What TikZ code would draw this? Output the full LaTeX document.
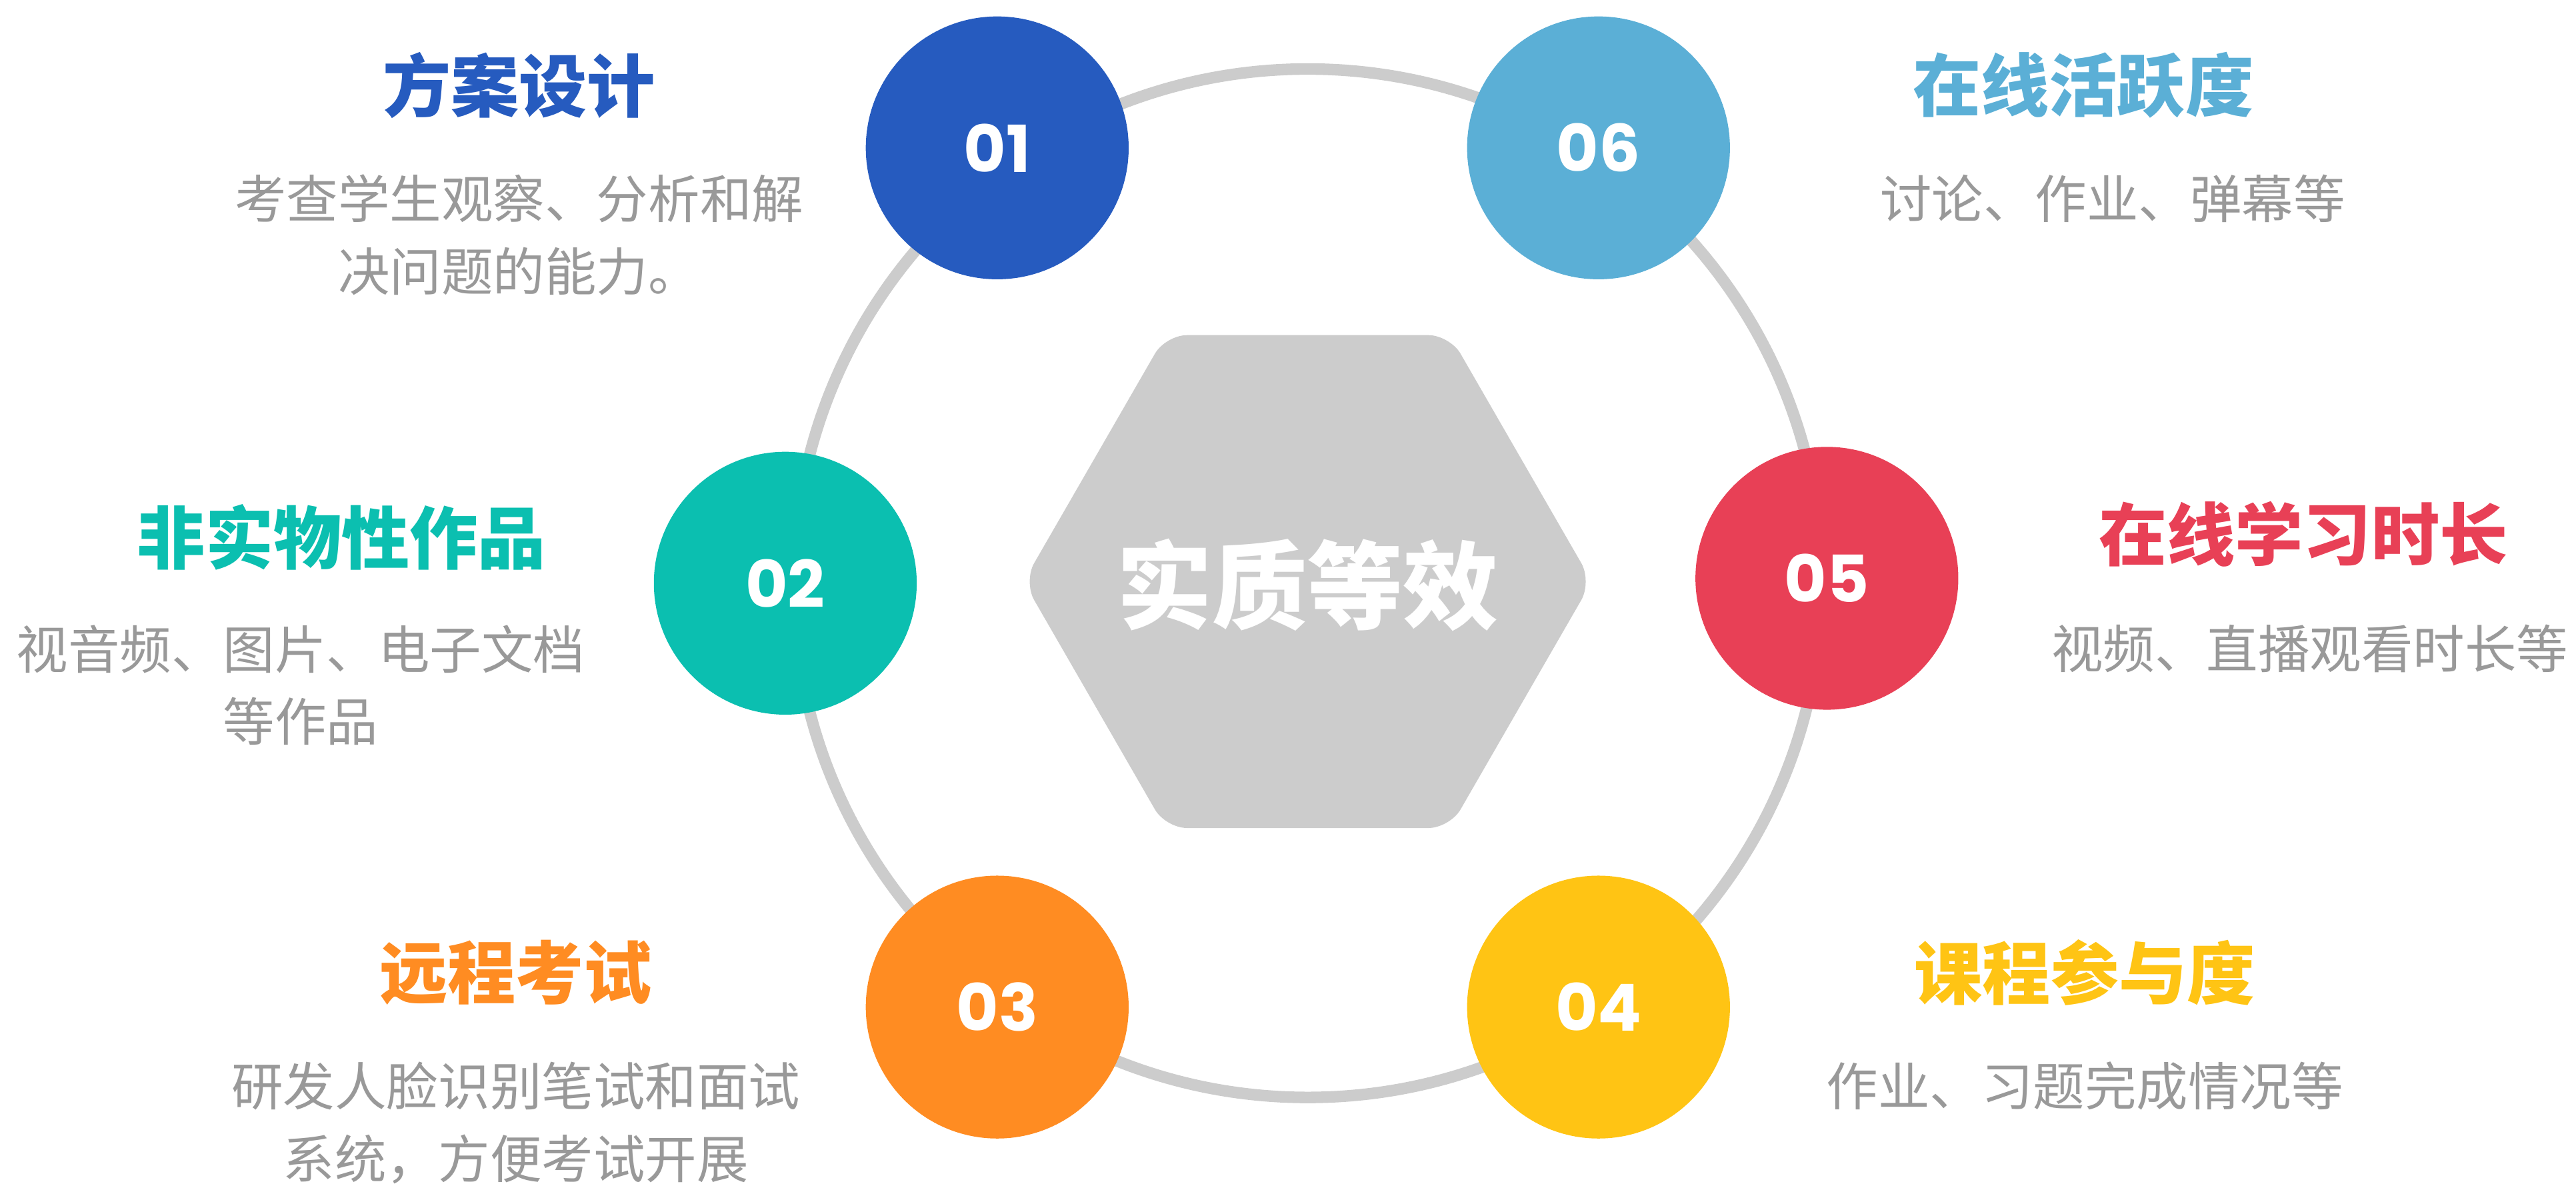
\documentclass[tikz,border=0pt]{standalone}
\usepackage{fontspec}
\newfontfamily\cjk{Noto Sans CJK SC}
\newfontfamily\numfont{Poppins}
\definecolor{cA}{HTML}{265BBF}
\definecolor{cB}{HTML}{0BBFB0}
\definecolor{cC}{HTML}{FF8C22}
\definecolor{cD}{HTML}{FFC414}
\definecolor{cE}{HTML}{E84056}
\definecolor{cF}{HTML}{5BAFD6}
\definecolor{ringgray}{HTML}{CCCCCC}
\definecolor{descgray}{HTML}{999999}
\tikzset{
  numcircle/.style={circle, minimum size=32mm, inner sep=0pt, text=white,
    font=\numfont\bfseries\fontsize{22.5}{26}\selectfont},
  titletext/.style={inner sep=0pt, font=\cjk\bfseries\fontsize{23.6}{28}\selectfont},
  descL/.style={inner sep=0pt, align=center, text=descgray, font=\cjk\fontsize{17.9}{25}\selectfont},
  descR/.style={inner sep=0pt, align=center, text=descgray, font=\cjk\fontsize{17.9}{22}\selectfont},
  hexfill/.style={fill=ringgray, rounded corners=2.6mm},
  hextext/.style={inner sep=0pt, text=white, font=\cjk\bfseries\fontsize{33}{38}\selectfont}
}
\begin{document}
\begin{tikzpicture}[x=0.2mm,y=-0.2mm]
\useasboundingbox (0,0) rectangle (1568,724);
\coordinate (c) at (796,355);
\draw[ringgray, line width=4pt] (c) circle[radius=62.6mm];
\fill[hexfill] (623,354) -- (709.5,204) -- (882.5,204) -- (969,354) -- (882.5,504) -- (709.5,504) -- cycle;
\node[hextext] (hex) at (796,356) {实质等效};

\node[numcircle, fill=cA] (n1) at (607,90) {01};
\node[numcircle, fill=cF] (n6) at (973,90) {06};
\node[numcircle, fill=cB] (n2) at (478,355) {02};
\node[numcircle, fill=cE] (n5) at (1112,352) {05};
\node[numcircle, fill=cC] (n3) at (607,613) {03};
\node[numcircle, fill=cD] (n4) at (973,613) {04};

\node[titletext, text=cA] (t1) at (316,52) {方案设计};
\node[descL] (d1) at (316,143) {考查学生观察、分析和解\\决问题的能力。};

\node[titletext, text=cB] (t2) at (208,327) {非实物性作品};
\node[descL] (d2) at (183,417) {视音频、图片、电子文档\\等作品};

\node[titletext, text=cC] (t3) at (314,592) {远程考试};
\node[descL] (d3) at (314,683.5) {研发人脸识别笔试和面试\\系统，方便考试开展};

\node[titletext, text=cF] (t6) at (1268,52) {在线活跃度};
\node[descR] (d6) at (1286,121) {讨论、作业、弹幕等};

\node[titletext, text=cE] (t5) at (1402,325) {在线学习时长};
\node[descR] (d5) at (1406,395) {视频、直播观看时长等};

\node[titletext, text=cD] (t4) at (1269,592) {课程参与度};
\node[descR] (d4) at (1269,661) {作业、习题完成情况等};
\end{tikzpicture}
\end{document}
